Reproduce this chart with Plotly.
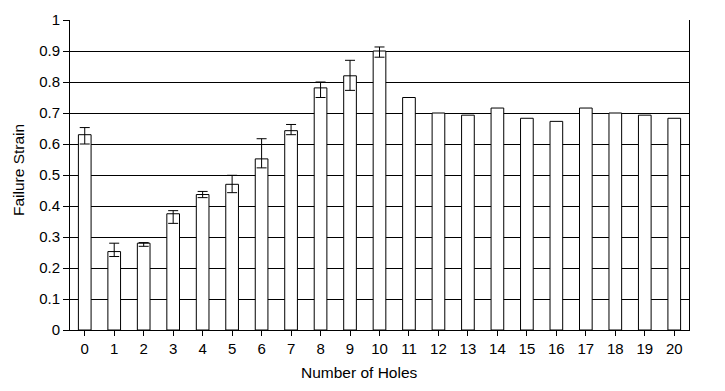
import plotly.graph_objects as go

holes = list(range(21))
strain = [0.63, 0.253, 0.28, 0.375, 0.437, 0.47, 0.552, 0.643, 0.781, 0.82, 0.90,
          0.75, 0.70, 0.693, 0.716, 0.683, 0.673, 0.716, 0.70, 0.693, 0.683]
# error bars exist only for 0..10 holes
err_plus = [0.023, 0.027, 0.002, 0.01, 0.01, 0.029, 0.065, 0.02, 0.019, 0.05, 0.013]
err_minus = [0.03, 0.016, 0.01, 0.031, 0.01, 0.027, 0.029, 0.013, 0.031, 0.047, 0.02]
y_ticks = [0, 0.1, 0.2, 0.3, 0.4, 0.5, 0.6, 0.7, 0.8, 0.9, 1]
y_tick_text = ["0", "0.1", "0.2", "0.3", "0.4", "0.5", "0.6", "0.7", "0.8", "0.9", "1"]

font = "Liberation Sans, Arial, sans-serif"

# page has an 8px body margin; figure coordinates = page coordinates - 8
OFF = 8
W, H = 725 - OFF, 391 - OFF
PL, PR, PT, PB = 70 - OFF, 689 - OFF, 20 - OFF, 330 - OFF  # plot area in figure px


def px_to_paper_x(px):
    return (px - OFF - PL) / (PR - PL)


def px_to_paper_y(py):
    return (PB - (py - OFF)) / (PB - PT)


n_err = len(err_plus)
bar_style = dict(color="white", line=dict(color="black", width=1))

fig = go.Figure()
fig.add_trace(go.Bar(
    x=holes[:n_err], y=strain[:n_err], width=0.43, marker=bar_style,
    error_y=dict(type="data", symmetric=False, array=err_plus, arrayminus=err_minus,
                 color="black", thickness=1, width=5),
    showlegend=False,
))
fig.add_trace(go.Bar(
    x=holes[n_err:], y=strain[n_err:], width=0.43, marker=bar_style,
    showlegend=False,
))

fig.update_layout(
    width=W, height=H,
    margin=dict(l=PL, r=W - PR, t=PT, b=H - PB, pad=0),
    paper_bgcolor="white", plot_bgcolor="white",
    font=dict(family=font, size=15, color="black"),
    barmode="overlay",
    xaxis=dict(
        range=[-0.5, 20.5], tickmode="array", tickvals=holes,
        ticktext=[str(h) for h in holes],
        tickson="boundaries", ticks="outside", ticklen=5, tickcolor="black", tickwidth=1,
        showline=True, linecolor="black", linewidth=1, showgrid=False, zeroline=False,
        tickfont=dict(size=15), automargin=False,
    ),
    yaxis=dict(
        range=[0, 1], tickmode="array", tickvals=y_ticks, ticktext=y_tick_text,
        ticks="outside", ticklen=6, tickcolor="black", tickwidth=1,
        showline=True, linecolor="black", linewidth=1, mirror=True,
        showgrid=True, gridcolor="black", gridwidth=1, zeroline=False,
        tickfont=dict(size=15), automargin=False,
    ),
    annotations=[
        dict(text="Number of Holes", xref="paper", yref="paper",
             x=px_to_paper_x(359), y=px_to_paper_y(372),
             xanchor="center", yanchor="middle", showarrow=False,
             font=dict(size=15.5, family=font)),
        dict(text="Failure Strain", xref="paper", yref="paper",
             x=px_to_paper_x(18), y=px_to_paper_y(170),
             xanchor="center", yanchor="middle", textangle=-90, showarrow=False,
             font=dict(size=15.5, family=font)),
    ],
)

fig.write_html("out.html")
